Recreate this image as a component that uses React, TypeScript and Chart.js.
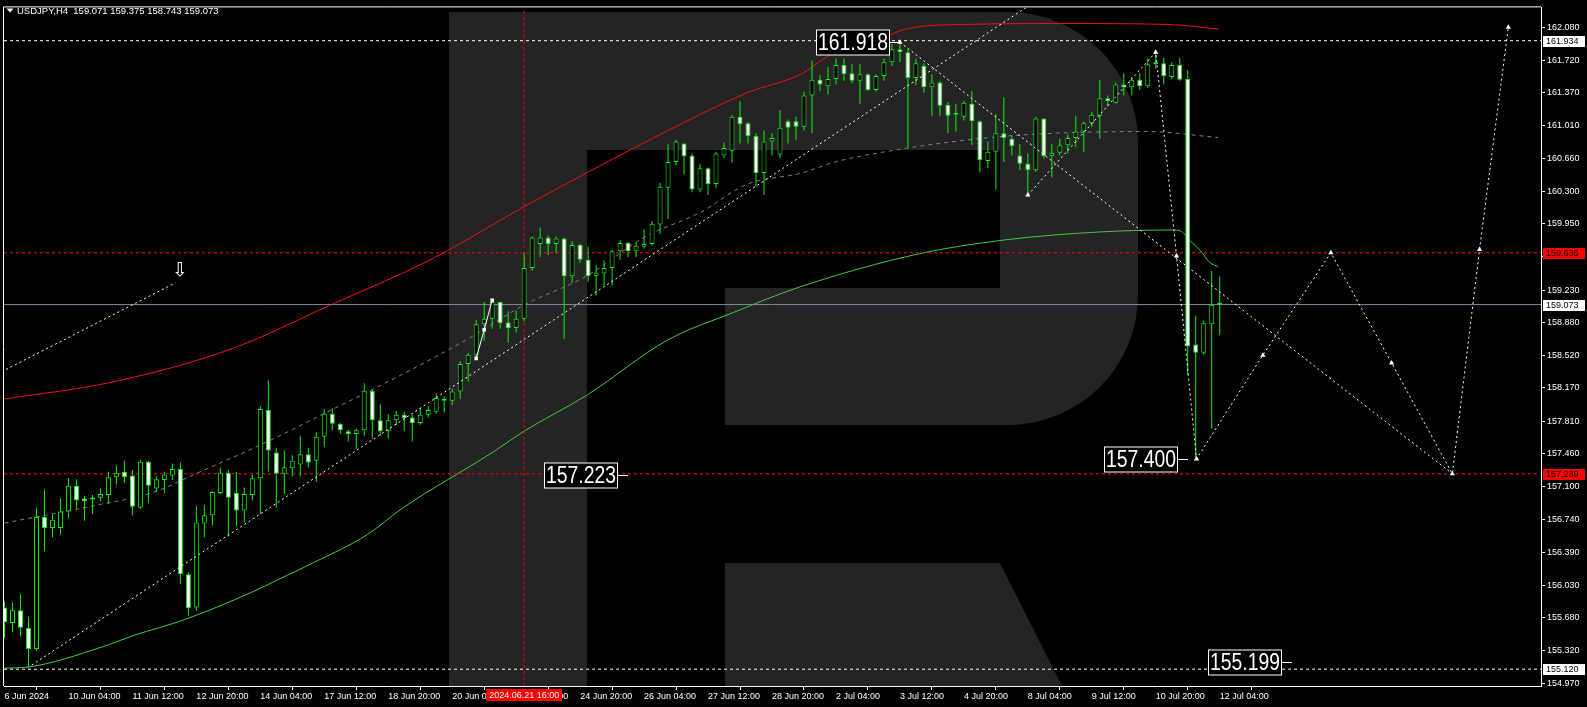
import React, { useEffect, useRef } from "react";
import { Chart, registerables } from "chart.js";

Chart.register(...registerables);

// ---------- DATA (USDJPY H4, bar index 0 = first visible bar) ----------
const symbolName = "USDJPY";
const timeframe = "H4";

const opens = [
  155.79, 155.62, 155.76, 155.57, 155.34, 156.77, 156.65, 156.65, 156.83, 157.11,
  156.97, 156.96, 156.98, 157.01, 157.2, 157.26, 157.22, 156.87, 157.37, 157.08,
  157.17, 157.22, 157.29, 156.15, 155.79, 156.7, 156.79, 157.03, 157.25, 157.03,
  156.84, 157.01, 157.19, 157.93, 157.47, 157.24, 157.3, 157.34, 157.45, 157.38,
  157.64, 157.89, 157.78, 157.7, 157.67, 157.71, 158.14, 157.82, 157.7, 157.82,
  157.88, 157.85, 157.79, 157.88, 157.91, 158.03, 158.03, 158.13, 158.43, 158.53,
  158.86, 158.92, 159.1, 158.88, 158.82, 158.92, 159.47, 159.73, 159.8, 159.73,
  159.79, 159.38, 159.72, 159.56, 159.38, 159.41, 159.47, 159.65, 159.74, 159.65,
  159.7, 159.73, 159.94, 160.34, 160.62, 160.82, 160.69, 160.32, 160.55, 160.38,
  160.69, 160.74, 161.11, 161.04, 160.9, 160.5, 160.84, 160.7, 161.06, 161.06,
  161.0, 161.34, 161.51, 161.44, 161.52, 161.67, 161.58, 161.5, 161.57, 161.4,
  161.55, 161.7, 161.84, 161.81, 161.53, 161.66, 161.43, 161.48, 161.24, 161.13,
  161.11, 161.25, 161.06, 160.63, 160.73, 160.93, 160.87, 160.69, 160.6, 160.53,
  161.09, 160.68, 160.72, 160.8, 160.88, 160.95, 161.04, 161.12, 161.31, 161.26,
  161.46, 161.43, 161.51, 161.44, 161.68, 161.69, 161.54, 161.67, 161.52, 158.64,
  158.55, 158.86, 159.071,
];
const highs = [
  155.86, 155.84, 155.93, 155.69, 156.87, 157.07, 156.8, 156.97, 157.19, 157.18,
  157.0, 157.01, 157.08, 157.26, 157.33, 157.38, 157.28, 157.39, 157.38, 157.21,
  157.26, 157.35, 157.36, 156.17, 156.89, 156.9, 157.05, 157.31, 157.28, 157.26,
  157.09, 157.23, 157.97, 158.25, 157.52, 157.49, 157.44, 157.65, 157.52, 157.69,
  157.94, 157.95, 157.79, 157.72, 157.73, 158.22, 158.15, 157.99, 157.89, 157.92,
  157.91, 157.88, 157.95, 157.97, 158.11, 158.08, 158.16, 158.46, 158.55, 158.91,
  159.1, 159.13, 159.1, 159.0, 159.01, 159.63, 159.81, 159.91, 159.82, 159.81,
  159.8, 159.76, 159.73, 159.7, 159.5, 159.55, 159.67, 159.77, 159.75, 159.75,
  159.89, 159.98, 160.39, 160.81, 160.86, 160.82, 160.71, 160.6, 160.56, 160.73,
  160.83, 161.13, 161.28, 161.05, 160.93, 160.96, 160.93, 161.18, 161.08, 161.11,
  161.38, 161.72, 161.56, 161.65, 161.74, 161.74, 161.68, 161.68, 161.58, 161.57,
  161.74, 161.9, 161.918, 161.84, 161.74, 161.69, 161.57, 161.5, 161.27, 161.25,
  161.28, 161.39, 161.07, 160.84, 161.14, 161.32, 160.91, 160.81, 160.71, 161.11,
  161.09, 160.81, 160.87, 160.92, 161.12, 161.06, 161.16, 161.51, 161.34, 161.48,
  161.58, 161.54, 161.58, 161.74, 161.8, 161.75, 161.7, 161.75, 161.62, 158.95,
  158.9, 159.44, 159.375,
];
const lows = [
  155.46, 155.52, 155.48, 155.13, 155.32, 156.4, 156.55, 156.58, 156.76, 156.86,
  156.73, 156.8, 156.94, 156.91, 157.12, 157.14, 156.79, 156.86, 156.92, 157.04,
  157.03, 157.17, 156.04, 155.7, 155.75, 156.55, 156.68, 157.02, 156.56, 156.67,
  156.71, 156.95, 156.8, 157.26, 156.87, 157.02, 157.21, 157.21, 157.31, 157.15,
  157.53, 157.71, 157.67, 157.59, 157.51, 157.65, 157.62, 157.65, 157.62, 157.77,
  157.7, 157.59, 157.77, 157.85, 157.89, 157.9, 157.98, 158.05, 158.24, 158.49,
  158.68, 158.81, 158.81, 158.66, 158.77, 158.89, 159.44, 159.59, 159.61, 159.63,
  158.7, 159.31, 159.53, 159.32, 159.17, 159.28, 159.28, 159.56, 159.59, 159.59,
  159.68, 159.71, 159.84, 160.0, 160.58, 160.48, 160.29, 160.29, 160.26, 160.34,
  160.66, 160.61, 160.82, 160.82, 160.35, 160.26, 160.69, 160.66, 160.82, 160.86,
  160.96, 160.93, 161.39, 161.35, 161.46, 161.5, 161.47, 161.25, 161.39, 161.38,
  161.5, 161.66, 161.7, 160.77, 161.45, 161.37, 161.12, 161.12, 160.93, 160.95,
  161.07, 160.8, 160.51, 160.55, 160.32, 160.62, 160.69, 160.53, 160.25, 160.51,
  160.66, 160.45, 160.69, 160.71, 160.78, 160.73, 161.0, 160.87, 161.22, 161.25,
  161.34, 161.34, 161.4, 161.42, 161.63, 161.46, 161.52, 161.5, 158.31, 157.4,
  158.53, 157.73, 158.743,
];
const closes = [
  155.63, 155.76, 155.57, 155.34, 156.77, 156.65, 156.74, 156.83, 157.11, 156.95,
  156.94, 156.98, 157.02, 157.2, 157.25, 157.2, 156.88, 157.37, 157.11, 157.18,
  157.23, 157.29, 156.15, 155.78, 156.71, 156.79, 157.04, 157.25, 156.98, 156.84,
  157.02, 157.19, 157.94, 157.49, 157.24, 157.31, 157.38, 157.45, 157.36, 157.64,
  157.89, 157.78, 157.71, 157.67, 157.71, 158.14, 157.82, 157.7, 157.82, 157.88,
  157.84, 157.79, 157.88, 157.93, 158.06, 158.04, 158.13, 158.43, 158.53, 158.86,
  158.92, 159.1, 158.87, 158.82, 158.92, 159.47, 159.8, 159.8, 159.73, 159.79,
  159.38, 159.72, 159.56, 159.38, 159.42, 159.47, 159.65, 159.74, 159.65, 159.71,
  159.73, 159.95, 160.35, 160.62, 160.84, 160.68, 160.32, 160.55, 160.38, 160.71,
  160.77, 161.11, 161.03, 160.9, 160.5, 160.84, 160.88, 160.99, 160.99, 161.0,
  161.34, 161.51, 161.46, 161.52, 161.67, 161.57, 161.5, 161.57, 161.4, 161.55,
  161.7, 161.84, 161.81, 161.53, 161.69, 161.43, 161.48, 161.23, 161.12, 161.14,
  161.26, 161.06, 160.64, 160.73, 160.93, 160.88, 160.79, 160.6, 160.53, 161.09,
  160.68, 160.72, 160.8, 160.88, 160.95, 161.04, 161.13, 161.31, 161.28, 161.46,
  161.43, 161.51, 161.44, 161.68, 161.69, 161.55, 161.67, 161.51, 158.62, 158.55,
  158.87, 159.07, 159.073,
];

// time axis labels (every 8 bars)
const tickBars = [0, 8, 16, 24, 32, 40, 48, 56, 64, 72, 80, 88, 96, 104, 112, 120, 128, 136, 144, 152];
const tickLabels = [
  "6 Jun 2024", "10 Jun 04:00", "11 Jun 12:00", "12 Jun 20:00", "14 Jun 04:00",
  "17 Jun 12:00", "18 Jun 20:00", "20 Jun 04:00", "21 Jun 12:00", "24 Jun 20:00",
  "26 Jun 04:00", "27 Jun 12:00", "28 Jun 20:00", "2 Jul 04:00", "3 Jul 12:00",
  "4 Jul 20:00", "8 Jul 04:00", "9 Jul 12:00", "10 Jul 20:00", "12 Jul 04:00",
];
const priceTicks = [
  162.08, 161.72, 161.37, 161.01, 160.66, 160.3, 159.95, 159.59, 159.23, 158.88,
  158.52, 158.17, 157.81, 157.46, 157.1, 156.74, 156.39, 156.03, 155.68, 155.32, 154.97,
];

// indicators: [bar, price]
const upperBand = [
  [0, 158.05], [13.3, 158.23], [28.3, 158.59], [40.8, 159.07], [53.3, 159.56], [64.9, 160.13],
  [72.8, 160.5], [83.7, 160.99], [92.9, 161.37], [99.6, 161.57], [103.1, 161.77], [109.8, 161.96],
  [112.7, 162.06], [120.1, 162.11], [132.4, 162.12], [145.6, 162.11], [151.8, 162.06],
];
const middleBand = [
  [0, 156.705], [12.1, 156.909], [18.3, 157.028], [24.6, 157.265], [32.9, 157.588], [41.2, 157.944],
  [49.6, 158.31], [57.9, 158.698], [64.9, 159.064], [72.9, 159.387], [79.9, 159.796], [87.1, 160.076],
  [92.9, 160.378], [99.6, 160.497], [104.2, 160.626], [112.7, 160.766], [122.1, 160.874],
  [130.4, 160.927], [142.9, 160.949], [151.8, 160.884],
];
const movingAverage = [
  [0, 155.132], [2.9, 155.143], [12.1, 155.358], [16.2, 155.487], [22.6, 155.66],
  [30.8, 155.95], [34.2, 156.09], [38.3, 156.26], [45.4, 156.58], [49.6, 156.855],
  [61.4, 157.491], [64.9, 157.696], [72.9, 158.094], [82.9, 158.687], [91.2, 158.988],
  [99.6, 159.268], [114.4, 159.624], [125.2, 159.775], [137.1, 159.861], [146.1, 159.882],
  [147.1, 159.872], [148.3, 159.764], [149.6, 159.656], [150.8, 159.527], [151.8, 159.484],
];

// horizontal levels and vertical time marker
const levelPrices = [161.934, 159.635, 159.073, 157.239, 155.12];
const markerBar = 65;
const markerLabel = "2024.06.21 16:00";

// drawn analysis (trend lines / forecast)
const trendUp = [[3.4, 155.164], [128, 162.306]];
const trendLeft = [[0.2, 158.37], [21.4, 159.31]];
const trendDown = [[112, 161.918], [181.1, 157.239]];
const forecastPath = [
  [128, 160.26], [144, 161.81], [146.6, 159.6], [149.1, 157.4], [157.4, 158.525], [165.9, 159.635],
  [173.5, 158.44], [181.1, 157.239], [184.5, 159.67], [188.1, 162.08],
];
const wavePath = [[59, 158.49], [60, 158.8], [61, 159.12]];
const calloutLabels = ["161.918", "157.223", "157.400", "155.199"];
const calloutBars = [112, 78, 148, 161];
const calloutPrices = [161.918, 157.223, 157.4, 155.199];
const arrowMark = [21.9, 159.44];

// ---------- LAYOUT / STYLE ----------
const W = 1587;
const H = 707;
const X_MIN = -0.0625;
const X_MAX = X_MIN + 1538 / 8;
const Y_MIN = 154.938;
const Y_MAX = 162.295;
const FONT_UI = '"Liberation Sans", Arial, sans-serif';
const FONT_BIG = '"Liberation Sans Narrow", "Arial Narrow", "Liberation Sans", sans-serif';
const CANDLE_GREEN = "#12f012";
const LEVEL_STYLES = [
  { color: "#ffffff", dash: [3, 3], tag: "#ffffff" },
  { color: "#ff0000", dash: [3, 3], tag: "#ff0000" },
  { color: "#7f8c99", dash: [], tag: "#ffffff" },
  { color: "#ff0000", dash: [3, 3], tag: "#ff0000" },
  { color: "#ffffff", dash: [3, 3], tag: "#ffffff" },
];

const xy = (pts: number[][]) => pts.map(([x, y]) => ({ x, y }));

const backgroundPlugin = {
  id: "mtBackground",
  beforeDraw(chart: any) {
    const { ctx, width, height } = chart;
    ctx.save();
    ctx.fillStyle = "#000";
    ctx.fillRect(0, 0, width, height);
    ctx.restore();
  },
  beforeDatasetsDraw(chart: any) {
    const { ctx, chartArea: ca } = chart;
    const sx = ca.width / 1538;
    const sy = ca.height / 683;
    const X = (v: number) => Math.round(ca.left + (v - 3) * sx);
    const Y = (v: number) => Math.round(ca.top + (v - 3) * sy);
    ctx.save();
    ctx.beginPath();
    ctx.rect(ca.left, ca.top, ca.width, ca.height);
    ctx.clip();
    ctx.fillStyle = "#242424";
    // stem + bowl as one outline
    ctx.beginPath();
    ctx.moveTo(X(448), Y(8));
    ctx.lineTo(X(1008), Y(8));
    ctx.arcTo(X(1138), Y(8), X(1138), Y(138), 130 * sx);
    ctx.lineTo(X(1138), Y(293));
    ctx.arcTo(X(1138), Y(423), X(1008), Y(423), 130 * sx);
    ctx.lineTo(X(724), Y(423));
    ctx.lineTo(X(724), Y(285));
    ctx.lineTo(X(1000), Y(285));
    ctx.lineTo(X(1000), Y(147));
    ctx.lineTo(X(586), Y(147));
    ctx.lineTo(X(586), Y(700));
    ctx.lineTo(X(448), Y(700));
    ctx.closePath();
    ctx.fill();
    // leg
    ctx.beginPath();
    ctx.moveTo(X(724), Y(562));
    ctx.lineTo(X(1000), Y(562));
    ctx.lineTo(X(1069), Y(700));
    ctx.lineTo(X(724), Y(700));
    ctx.closePath();
    ctx.fill();
    ctx.restore();
  },
};

const overlayPlugin = {
  id: "mtOverlay",
  afterDraw(chart: any) {
    const { ctx, chartArea: ca, scales } = chart;
    const xs = scales.x;
    const ys = scales.y;
    ctx.save();
    // frame (left / top)
    ctx.strokeStyle = "#fff";
    ctx.lineWidth = 1;
    ctx.beginPath();
    ctx.moveTo(ca.left - 0.5, ca.bottom);
    ctx.lineTo(ca.left - 0.5, ca.top - 0.5);
    ctx.lineTo(ca.right, ca.top - 0.5);
    ctx.stroke();

    // header
    const last = opens.length - 1;
    const header = `${symbolName},${timeframe}  ${opens[last].toFixed(3)} ${highs[last].toFixed(3)} ${lows[last].toFixed(3)} ${closes[last].toFixed(3)}`;
    ctx.fillStyle = "#fff";
    ctx.beginPath();
    ctx.moveTo(6.5, 8.5);
    ctx.lineTo(13.5, 8.5);
    ctx.lineTo(10, 12.5);
    ctx.closePath();
    ctx.fill();
    ctx.font = `9.5px ${FONT_UI}`;
    ctx.textBaseline = "middle";
    ctx.textAlign = "left";
    ctx.fillText(header, 17, 11);

    // chart-area annotations
    ctx.save();
    ctx.beginPath();
    ctx.rect(ca.left, ca.top, ca.width, ca.height);
    ctx.clip();
    ctx.fillStyle = "#fff";
    ctx.font = `19px "DejaVu Sans", sans-serif`;
    ctx.textAlign = "center";
    ctx.fillText("\u21E9", xs.getPixelForValue(arrowMark[0]), ys.getPixelForValue(arrowMark[1]));

    calloutLabels.forEach((label, k) => {
      const ax = Math.round(xs.getPixelForValue(calloutBars[k]));
      const ay = Math.round(ys.getPixelForValue(calloutPrices[k])) + 0.5;
      const right = ax - 10;
      const bw = 74;
      const bh = 25;
      ctx.fillStyle = "#000";
      ctx.fillRect(right - bw, ay - bh / 2, bw, bh);
      ctx.strokeStyle = "#fff";
      ctx.lineWidth = 1;
      ctx.strokeRect(right - bw + 0.5, ay - bh / 2, bw - 1, bh);
      ctx.beginPath();
      ctx.moveTo(right, ay);
      ctx.lineTo(ax, ay);
      ctx.stroke();
      ctx.fillStyle = "#fff";
      ctx.font = `24px ${FONT_BIG}`;
      ctx.textAlign = "center";
      ctx.textBaseline = "middle";
      ctx.fillText(label, right - bw / 2, ay + 1, bw - 4);
    });
    ctx.restore();

    // price tags on the axis
    ctx.font = `9px ${FONT_UI}`;
    ctx.textAlign = "left";
    ctx.textBaseline = "middle";
    levelPrices.forEach((p, k) => {
      const y = Math.round(ys.getPixelForValue(p));
      ctx.fillStyle = LEVEL_STYLES[k].tag;
      ctx.fillRect(ca.right + 2, y - 5, 42, 11);
      ctx.fillStyle = "#000";
      ctx.fillText(p.toFixed(3), ca.right + 5, y + 0.5);
    });

    // time tag
    const tx = xs.getPixelForValue(markerBar);
    ctx.fillStyle = "#ff0000";
    ctx.fillRect(Math.round(tx - 38), ca.bottom + 3, 76, 12);
    ctx.fillStyle = "#fff";
    ctx.textAlign = "center";
    ctx.fillText(markerLabel, tx, ca.bottom + 9.5);
    ctx.restore();
  },
};

function buildConfig(): any {
  const wickData = opens.map((_, i) => ({ x: i, y: [lows[i], highs[i]] }));
  const bodyData = opens.map((o, i) => ({ x: i, y: [o, closes[i]] }));
  const bodyFill = opens.map((o, i) => (closes[i] >= o ? "#000000" : "#ffffff"));

  const lineBase = { type: "line", pointRadius: 0, borderWidth: 1, fill: false, tension: 0 };

  const datasets: any[] = [
    ...levelPrices.map((p, k) => ({
      ...lineBase,
      data: [{ x: X_MIN, y: p }, { x: X_MAX, y: p }],
      borderColor: LEVEL_STYLES[k].color,
      borderDash: LEVEL_STYLES[k].dash,
      order: 9,
    })),
    {
      ...lineBase,
      data: [{ x: markerBar, y: Y_MIN }, { x: markerBar, y: Y_MAX }],
      borderColor: "#ff0000",
      borderDash: [3, 3],
      order: 9,
    },
    { ...lineBase, data: xy(upperBand), borderColor: "#f01212", cubicInterpolationMode: "monotone", order: 10 },
    { ...lineBase, data: xy(middleBand), borderColor: "#808080", borderDash: [4, 4], cubicInterpolationMode: "monotone", order: 10 },
    { ...lineBase, data: xy(movingAverage), borderColor: "#3ccc3c", cubicInterpolationMode: "monotone", order: 10 },
    {
      type: "bar",
      data: wickData,
      backgroundColor: CANDLE_GREEN,
      borderWidth: 0,
      grouped: false,
      maxBarThickness: 1,
      inflateAmount: 0,
      order: 5,
    },
    {
      type: "bar",
      data: bodyData,
      backgroundColor: bodyFill,
      borderColor: CANDLE_GREEN,
      borderWidth: 1,
      borderSkipped: false,
      grouped: false,
      maxBarThickness: 5,
      minBarLength: 2,
      inflateAmount: 0,
      order: 4,
    },
    { ...lineBase, data: xy(trendUp), borderColor: "#ffffff", borderDash: [2, 3], order: 1 },
    { ...lineBase, data: xy(trendLeft), borderColor: "#ffffff", borderDash: [2, 3], order: 1 },
    {
      ...lineBase,
      data: xy(trendDown),
      borderColor: "#ffffff",
      borderDash: [2, 3],
      pointRadius: [3, 0],
      pointStyle: "triangle",
      pointBackgroundColor: "#fff",
      pointBorderWidth: 0,
      order: 1,
    },
    {
      ...lineBase,
      data: xy(forecastPath),
      borderColor: "#ffffff",
      borderDash: [2, 3],
      pointRadius: 3,
      pointStyle: "triangle",
      pointBackgroundColor: "#fff",
      pointBorderWidth: 0,
      order: 1,
    },
    {
      ...lineBase,
      data: xy(wavePath),
      borderColor: "#ffffff",
      pointRadius: 2.5,
      pointStyle: "rect",
      pointBackgroundColor: "#fff",
      pointBorderWidth: 0,
      order: 1,
    },
  ];

  return {
    type: "bar",
    data: { datasets },
    options: {
      animation: false,
      responsive: false,
      devicePixelRatio: 1,
      events: [],
      layout: { padding: { left: 3, top: 3, right: 0, bottom: 0 } },
      plugins: { legend: { display: false }, tooltip: { enabled: false }, title: { display: false } },
      scales: {
        x: {
          type: "linear",
          position: "bottom",
          min: X_MIN,
          max: X_MAX,
          offset: false,
          grid: { display: true, drawOnChartArea: false, drawTicks: true, tickLength: 4, color: "#ffffff" },
          border: { display: true, color: "#ffffff" },
          ticks: {
            color: "#ffffff",
            font: { family: FONT_UI, size: 9 },
            padding: 1,
            maxRotation: 0,
            autoSkip: false,
            align: "start",
            callback: (v: number) => {
              const k = tickBars.indexOf(Math.round(v));
              return k >= 0 ? tickLabels[k] : "";
            },
          },
          afterBuildTicks: (s: any) => {
            s.ticks = tickBars.map((v) => ({ value: v }));
          },
          afterFit: (s: any) => {
            s.height = 21;
          },
        },
        y: {
          type: "linear",
          position: "right",
          min: Y_MIN,
          max: Y_MAX,
          grid: { display: true, drawOnChartArea: false, drawTicks: true, tickLength: 4, color: "#ffffff" },
          border: { display: true, color: "#ffffff" },
          ticks: {
            color: "#ffffff",
            font: { family: FONT_UI, size: 9 },
            padding: 2,
            autoSkip: false,
            callback: (v: number) => Number(v).toFixed(3),
          },
          afterBuildTicks: (s: any) => {
            s.ticks = priceTicks.map((v) => ({ value: v }));
          },
          afterFit: (s: any) => {
            s.width = 46;
          },
        },
      },
    },
    plugins: [backgroundPlugin, overlayPlugin],
  };
}

export default function App() {
  const canvasRef = useRef<HTMLCanvasElement | null>(null);
  useEffect(() => {
    document.body.style.margin = "0";
    document.body.style.background = "#000";
    const canvas = canvasRef.current;
    if (!canvas) return;
    const chart = new Chart(canvas, buildConfig());
    return () => chart.destroy();
  }, []);
  return (
    <div style={{ width: W, height: H, background: "#000" }}>
      <canvas ref={canvasRef} width={W} height={H} style={{ display: "block", width: W, height: H }} />
    </div>
  );
}
